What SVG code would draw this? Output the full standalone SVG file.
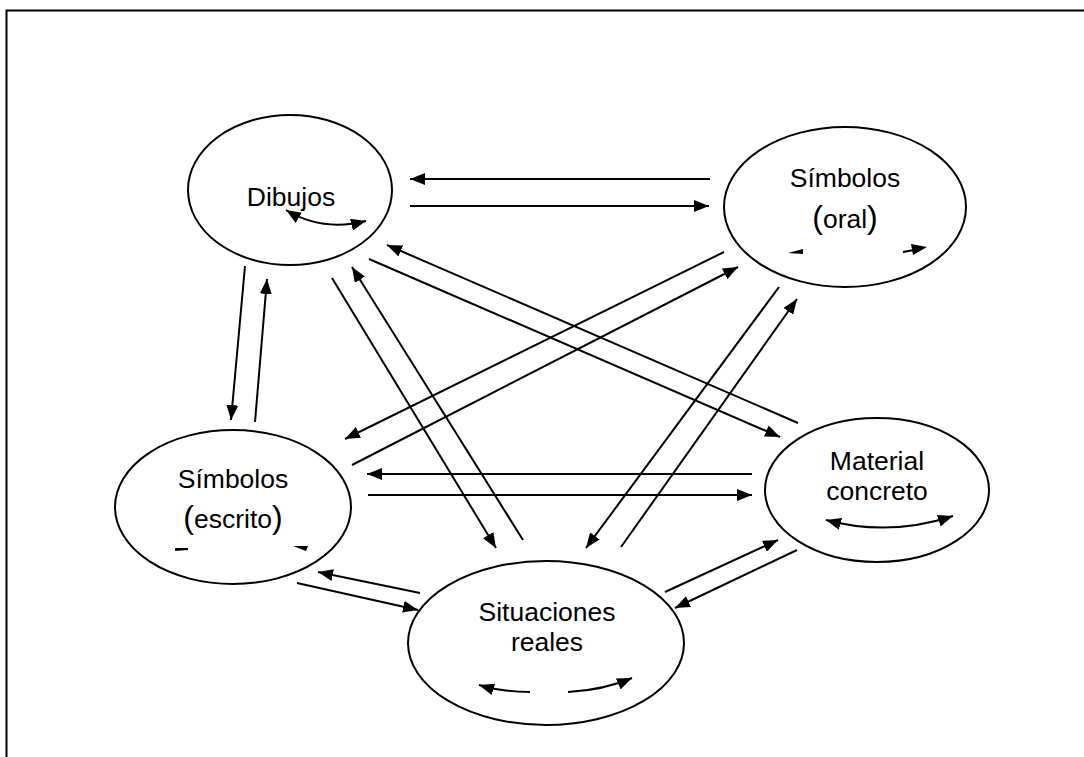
<svg xmlns="http://www.w3.org/2000/svg" width="1084" height="757" viewBox="0 0 1084 757">
<style>
.node ellipse{fill:#fff;stroke:#000;stroke-width:2}
.lbl{font-family:"Liberation Sans",Arial,sans-serif;font-size:26.5px;fill:#000;text-anchor:middle}
.par{font-size:32px}
.conn line,.conn path{stroke:#000;stroke-width:2;fill:none}
.head{fill:#000}
</style>
<defs>
<marker id="ah" viewBox="0 0 15 12" refX="15" refY="6" markerWidth="15" markerHeight="12" markerUnits="userSpaceOnUse" orient="auto-start-reverse">
<path d="M0,0 L15,6 L0,12 z" fill="#000"/>
</marker>
</defs>
<rect width="1084" height="757" fill="#fff"/>
<path d="M6.5,757 L6.5,10.5 L1084,10.5" fill="none" stroke="#000" stroke-width="2"/>

<g id="dibujos" class="node">
<ellipse cx="290" cy="190" rx="102" ry="75"/>
<text class="lbl" x="291" y="206">Dibujos</text>
</g>
<g id="simbolos-oral" class="node">
<ellipse cx="845" cy="207" rx="121" ry="80"/>
<text class="lbl" x="845" y="187">Símbolos</text>
<text class="lbl" x="845" y="228"><tspan class="par">(</tspan>oral<tspan class="par">)</tspan></text>
</g>
<g id="simbolos-escrito" class="node">
<ellipse cx="233" cy="507" rx="118" ry="77"/>
<text class="lbl" x="233" y="488">Símbolos</text>
<text class="lbl" x="233" y="528"><tspan class="par">(</tspan>escrito<tspan class="par">)</tspan></text>
</g>
<g id="material-concreto" class="node">
<ellipse cx="877" cy="490" rx="112" ry="72"/>
<text class="lbl" x="877" y="470">Material</text>
<text class="lbl" x="877" y="500">concreto</text>
</g>
<g id="situaciones-reales" class="node">
<ellipse cx="546" cy="643" rx="138" ry="82"/>
<text class="lbl" x="547" y="621">Situaciones</text>
<text class="lbl" x="547" y="651">reales</text>
</g>

<g id="connectors" class="conn">
<line x1="710" y1="179" x2="410" y2="179" marker-end="url(#ah)"/>
<line x1="410" y1="206" x2="709" y2="206" marker-end="url(#ah)"/>
<line x1="245" y1="266" x2="231" y2="420" marker-end="url(#ah)"/>
<line x1="255" y1="422" x2="267" y2="279" marker-end="url(#ah)"/>
<line x1="724" y1="252" x2="345" y2="439" marker-end="url(#ah)"/>
<line x1="352" y1="465" x2="738" y2="267" marker-end="url(#ah)"/>
<line x1="798" y1="423" x2="387" y2="245" marker-end="url(#ah)"/>
<line x1="369" y1="259" x2="780" y2="437" marker-end="url(#ah)"/>
<line x1="332" y1="278" x2="496" y2="548" marker-end="url(#ah)"/>
<line x1="523" y1="540" x2="352" y2="267" marker-end="url(#ah)"/>
<line x1="779" y1="287" x2="586" y2="548" marker-end="url(#ah)"/>
<line x1="621" y1="547" x2="797" y2="299" marker-end="url(#ah)"/>
<line x1="752" y1="474" x2="367" y2="474" marker-end="url(#ah)"/>
<line x1="368" y1="495" x2="752" y2="495" marker-end="url(#ah)"/>
<line x1="420" y1="593" x2="318" y2="572" marker-end="url(#ah)"/>
<line x1="297" y1="583" x2="418" y2="610" marker-end="url(#ah)"/>
<line x1="665" y1="592" x2="778" y2="540" marker-end="url(#ah)"/>
<line x1="797" y1="550" x2="675" y2="608" marker-end="url(#ah)"/>
<path d="M286,210 Q322,232 366,221" marker-start="url(#ah)" marker-end="url(#ah)"/>
<path d="M826,520 Q889,537 953,516" marker-start="url(#ah)" marker-end="url(#ah)"/>
<path d="M479,685 Q502,692 530,692" marker-start="url(#ah)"/>
<path d="M568,692 Q604,690 632,678" marker-end="url(#ah)"/>
<path d="M903,252 L914,250"/>
<polygon class="head" points="927,247 911,244 913,255"/>
<polygon class="head" points="788,253 803,249 803,254"/>
<polygon class="head" points="175,548 188,548 188,550 175,551"/>
<polygon class="head" points="293,546 308,546 306,551"/>
</g>
</svg>
